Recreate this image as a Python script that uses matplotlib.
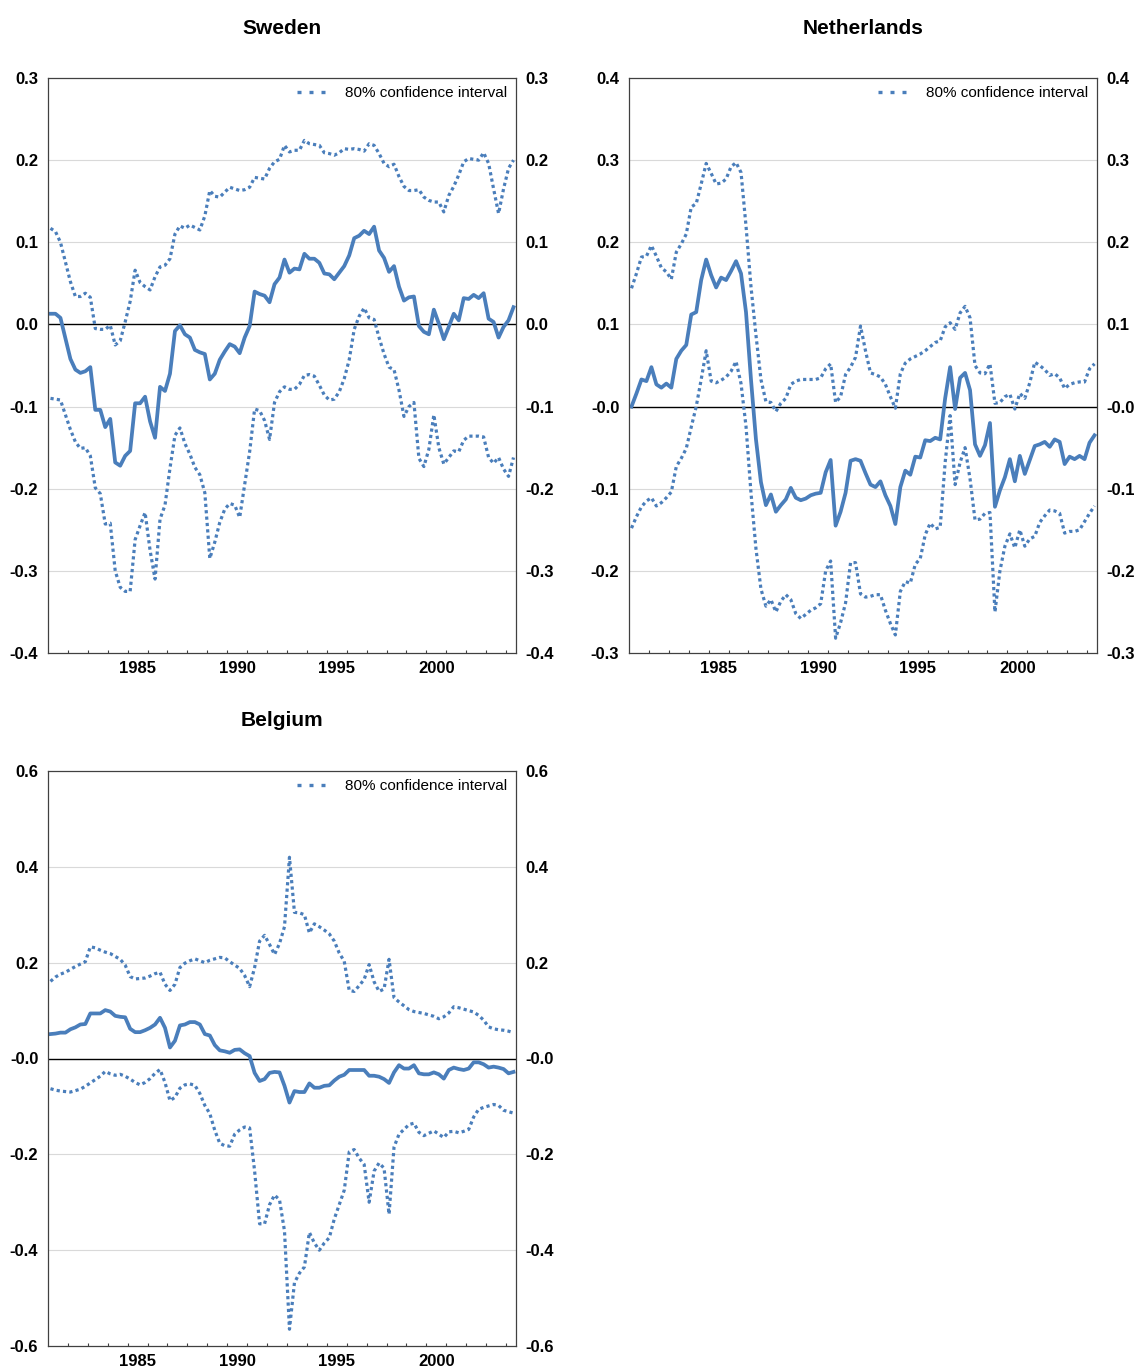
import numpy as np
import pandas as pd
import matplotlib
matplotlib.use("Agg")
import matplotlib.pyplot as plt
from matplotlib.lines import Line2D
from matplotlib.ticker import FixedLocator, NullFormatter

plt.rcParams['font.family'] = ['Liberation Sans', 'DejaVu Sans']

quarters = pd.period_range('1981Q1', '2004Q2', freq='Q')

# Sweden
swe_mid = [0.013, 0.013, 0.008, -0.017, -0.042, -0.055, -0.059, -0.057, -0.052, -0.104,
           -0.104, -0.125, -0.115, -0.168, -0.172, -0.160, -0.154, -0.096, -0.096, -0.088,
           -0.118, -0.138, -0.076, -0.081, -0.060, -0.008, -0.001, -0.012, -0.016, -0.031,
           -0.034, -0.036, -0.067, -0.060, -0.043, -0.033, -0.024, -0.027, -0.035, -0.016,
           -0.002, 0.040, 0.037, 0.035, 0.027, 0.049, 0.057, 0.079, 0.063, 0.068,
           0.067, 0.086, 0.080, 0.080, 0.075, 0.062, 0.061, 0.055, 0.063, 0.071,
           0.084, 0.105, 0.108, 0.114, 0.110, 0.119, 0.090, 0.081, 0.064, 0.071,
           0.046, 0.029, 0.033, 0.034, -0.002, -0.009, -0.012, 0.018, 0.001, -0.018,
           -0.003, 0.013, 0.005, 0.032, 0.031, 0.036, 0.032, 0.038, 0.007, 0.003,
           -0.016, -0.003, 0.005, 0.021]
swe_hi = [0.117, 0.113, 0.100, 0.076, 0.052, 0.034, 0.034, 0.038, 0.033, -0.005,
          -0.006, -0.006, -0.001, -0.025, -0.020, 0.003, 0.028, 0.066, 0.051, 0.046,
          0.042, 0.058, 0.070, 0.072, 0.080, 0.110, 0.120, 0.117, 0.121, 0.118,
          0.115, 0.132, 0.163, 0.156, 0.155, 0.161, 0.167, 0.165, 0.163, 0.164,
          0.167, 0.179, 0.178, 0.177, 0.190, 0.198, 0.201, 0.218, 0.210, 0.212,
          0.212, 0.224, 0.220, 0.219, 0.218, 0.209, 0.208, 0.206, 0.209, 0.214,
          0.213, 0.214, 0.213, 0.211, 0.220, 0.218, 0.208, 0.196, 0.192, 0.195,
          0.180, 0.168, 0.163, 0.163, 0.164, 0.155, 0.151, 0.149, 0.149, 0.137,
          0.157, 0.168, 0.182, 0.198, 0.202, 0.201, 0.200, 0.209, 0.196, 0.165,
          0.135, 0.165, 0.190, 0.200]
swe_lo = [-0.090, -0.091, -0.092, -0.110, -0.128, -0.143, -0.151, -0.150, -0.160, -0.199,
          -0.206, -0.243, -0.242, -0.300, -0.320, -0.325, -0.325, -0.262, -0.245, -0.229,
          -0.275, -0.310, -0.237, -0.220, -0.175, -0.135, -0.126, -0.145, -0.158, -0.174,
          -0.183, -0.205, -0.285, -0.265, -0.241, -0.225, -0.218, -0.220, -0.235, -0.195,
          -0.155, -0.103, -0.105, -0.117, -0.140, -0.095, -0.082, -0.076, -0.079, -0.079,
          -0.073, -0.062, -0.061, -0.063, -0.074, -0.086, -0.092, -0.091, -0.082, -0.066,
          -0.043, -0.006, 0.010, 0.020, 0.008, 0.006, -0.016, -0.036, -0.052, -0.055,
          -0.080, -0.112, -0.100, -0.095, -0.163, -0.173, -0.152, -0.110, -0.150, -0.170,
          -0.162, -0.154, -0.155, -0.141, -0.136, -0.136, -0.136, -0.137, -0.162, -0.169,
          -0.162, -0.176, -0.185, -0.162]

# Netherlands
nld_mid = [0.000, 0.016, 0.033, 0.031, 0.048, 0.027, 0.023, 0.028, 0.023, 0.058,
           0.068, 0.075, 0.112, 0.115, 0.154, 0.179, 0.160, 0.145, 0.157, 0.154,
           0.165, 0.177, 0.162, 0.115, 0.033, -0.040, -0.092, -0.120, -0.107, -0.128,
           -0.120, -0.113, -0.099, -0.111, -0.114, -0.112, -0.108, -0.106, -0.105, -0.080,
           -0.065, -0.145, -0.128, -0.105, -0.066, -0.064, -0.066, -0.081, -0.095, -0.098,
           -0.091, -0.108, -0.121, -0.143, -0.098, -0.078, -0.083, -0.061, -0.062, -0.041,
           -0.042, -0.038, -0.040, 0.010, 0.048, -0.003, 0.035, 0.041, 0.020, -0.046,
           -0.060, -0.047, -0.020, -0.122, -0.102, -0.086, -0.064, -0.091, -0.060, -0.082,
           -0.065, -0.048, -0.046, -0.043, -0.049, -0.040, -0.043, -0.070, -0.061, -0.064,
           -0.060, -0.064, -0.044, -0.035]
nld_hi = [0.144, 0.162, 0.182, 0.183, 0.196, 0.183, 0.169, 0.164, 0.155, 0.188,
          0.198, 0.210, 0.243, 0.247, 0.271, 0.296, 0.284, 0.271, 0.272, 0.277,
          0.292, 0.297, 0.285, 0.220, 0.146, 0.087, 0.033, 0.006, 0.005, -0.006,
          0.004, 0.010, 0.027, 0.031, 0.033, 0.033, 0.033, 0.033, 0.035, 0.046,
          0.052, 0.005, 0.012, 0.039, 0.048, 0.060, 0.098, 0.068, 0.041, 0.039,
          0.036, 0.027, 0.012, -0.002, 0.040, 0.053, 0.058, 0.061, 0.064, 0.068,
          0.073, 0.078, 0.080, 0.097, 0.102, 0.094, 0.114, 0.122, 0.108, 0.050,
          0.041, 0.040, 0.052, 0.004, 0.005, 0.012, 0.015, -0.003, 0.016, 0.010,
          0.029, 0.054, 0.050, 0.045, 0.038, 0.040, 0.035, 0.022, 0.027, 0.029,
          0.030, 0.030, 0.046, 0.052]
nld_lo = [-0.148, -0.134, -0.122, -0.115, -0.111, -0.121, -0.117, -0.111, -0.104, -0.073,
          -0.063, -0.051, -0.025, 0.000, 0.033, 0.068, 0.031, 0.029, 0.032, 0.036,
          0.043, 0.055, 0.028, -0.024, -0.105, -0.173, -0.222, -0.243, -0.235, -0.250,
          -0.237, -0.229, -0.235, -0.252, -0.258, -0.253, -0.248, -0.245, -0.240, -0.200,
          -0.188, -0.282, -0.263, -0.239, -0.190, -0.190, -0.228, -0.232, -0.231, -0.229,
          -0.229, -0.248, -0.264, -0.278, -0.225, -0.213, -0.215, -0.192, -0.185, -0.156,
          -0.142, -0.149, -0.147, -0.068, -0.011, -0.095, -0.068, -0.050, -0.088, -0.138,
          -0.137, -0.130, -0.129, -0.250, -0.200, -0.170, -0.155, -0.172, -0.150, -0.170,
          -0.161, -0.158, -0.141, -0.133, -0.126, -0.127, -0.130, -0.154, -0.152, -0.152,
          -0.150, -0.140, -0.130, -0.121]

# Belgium
bel_mid = [0.051, 0.052, 0.054, 0.054, 0.061, 0.065, 0.071, 0.072, 0.094, 0.094,
           0.094, 0.101, 0.098, 0.089, 0.087, 0.086, 0.062, 0.055, 0.055, 0.059,
           0.064, 0.071, 0.085, 0.064, 0.023, 0.037, 0.069, 0.071, 0.076, 0.076,
           0.071, 0.051, 0.048, 0.028, 0.017, 0.015, 0.012, 0.018, 0.019, 0.011,
           0.005, -0.030, -0.047, -0.043, -0.030, -0.028, -0.029, -0.057, -0.092, -0.068,
           -0.070, -0.070, -0.052, -0.061, -0.061, -0.057, -0.056, -0.046, -0.038, -0.034,
           -0.024, -0.024, -0.024, -0.024, -0.036, -0.036, -0.038, -0.043, -0.051, -0.029,
           -0.014, -0.021, -0.021, -0.014, -0.031, -0.033, -0.033, -0.029, -0.033, -0.042,
           -0.024, -0.019, -0.022, -0.024, -0.021, -0.008, -0.008, -0.012, -0.019, -0.017,
           -0.019, -0.022, -0.031, -0.028]
bel_hi = [0.161, 0.170, 0.176, 0.180, 0.186, 0.192, 0.197, 0.202, 0.233, 0.231,
          0.226, 0.222, 0.219, 0.213, 0.207, 0.195, 0.171, 0.166, 0.167, 0.168,
          0.172, 0.177, 0.180, 0.155, 0.142, 0.155, 0.190, 0.199, 0.204, 0.208,
          0.204, 0.200, 0.205, 0.208, 0.211, 0.210, 0.202, 0.195, 0.188, 0.173,
          0.150, 0.190, 0.245, 0.257, 0.238, 0.217, 0.240, 0.275, 0.420, 0.305,
          0.304, 0.300, 0.262, 0.281, 0.275, 0.268, 0.260, 0.245, 0.220, 0.203,
          0.142, 0.140, 0.152, 0.165, 0.196, 0.160, 0.140, 0.145, 0.207, 0.127,
          0.118, 0.110, 0.102, 0.098, 0.096, 0.094, 0.091, 0.088, 0.083, 0.087,
          0.095, 0.108, 0.106, 0.103, 0.100, 0.097, 0.090, 0.080, 0.066, 0.062,
          0.060, 0.059, 0.057, 0.054]
bel_lo = [-0.063, -0.066, -0.068, -0.069, -0.070, -0.067, -0.064, -0.058, -0.051, -0.044,
          -0.037, -0.027, -0.032, -0.035, -0.033, -0.037, -0.043, -0.050, -0.055, -0.050,
          -0.042, -0.031, -0.023, -0.050, -0.088, -0.081, -0.062, -0.055, -0.053, -0.056,
          -0.073, -0.098, -0.115, -0.150, -0.177, -0.182, -0.183, -0.158, -0.149, -0.143,
          -0.145, -0.235, -0.345, -0.345, -0.305, -0.285, -0.295, -0.360, -0.565, -0.468,
          -0.448, -0.435, -0.363, -0.385, -0.400, -0.385, -0.374, -0.335, -0.305, -0.275,
          -0.195, -0.190, -0.208, -0.221, -0.300, -0.235, -0.218, -0.229, -0.325, -0.185,
          -0.158, -0.148, -0.138, -0.135, -0.154, -0.161, -0.156, -0.151, -0.158, -0.165,
          -0.153, -0.152, -0.155, -0.152, -0.148, -0.122, -0.106, -0.102, -0.099, -0.096,
          -0.098, -0.108, -0.111, -0.114]

panels = [
    ("Sweden", swe_mid, swe_hi, swe_lo, [-0.4, -0.3, -0.2, -0.1, 0.0, 0.1, 0.2, 0.3],
     ["-0.4", "-0.3", "-0.2", "-0.1", "0.0", "0.1", "0.2", "0.3"]),
    ("Netherlands", nld_mid, nld_hi, nld_lo, [-0.3, -0.2, -0.1, 0.0, 0.1, 0.2, 0.3, 0.4],
     ["-0.3", "-0.2", "-0.1", "-0.0", "0.1", "0.2", "0.3", "0.4"]),
    ("Belgium", bel_mid, bel_hi, bel_lo, [-0.6, -0.4, -0.2, 0.0, 0.2, 0.4, 0.6],
     ["-0.6", "-0.4", "-0.2", "-0.0", "0.2", "0.4", "0.6"]),
]

year_labels = [1985, 1990, 1995, 2000]
blue = '#4A7EBB'

W, H = 1138, 1369
fig = plt.figure(figsize=(W / 100, H / 100), dpi=100)
fig.patch.set_facecolor('white')

# axes boxes in pixels: left, top, right, bottom
boxes = [(48, 78, 516, 653), (629, 78, 1097, 653), (48, 771, 516, 1346)]
title_y = [28, 28, 721]

x = quarters.year + (quarters.quarter - 1) / 4 + 0.125

for (name, mid, hi, lo, yt, ytl), (l, t, r, b), ty in zip(panels, boxes, title_y):
    ax = fig.add_axes([l / W, 1 - b / H, (r - l) / W, (b - t) / H])
    ax.plot(x, hi, color=blue, lw=2.3, linestyle=(0, (1.0, 1.0)), dash_capstyle='butt')
    ax.plot(x, lo, color=blue, lw=2.3, linestyle=(0, (1.0, 1.0)), dash_capstyle='butt')
    ax.plot(x, mid, color=blue, lw=2.7)
    ax.axhline(0, color='black', lw=1.0, zorder=1)

    ax.set_xlim(1981, 2004.5)
    ax.set_ylim(yt[0], yt[-1])
    for v in yt[1:-1]:
        if v != 0:
            ax.axhline(v, color='#D9D9D9', lw=0.8, zorder=0)

    ax.set_yticks(yt)
    ax.set_yticklabels(ytl)
    ax.tick_params(axis='y', which='both', left=False, right=False,
                   labelleft=True, labelright=True, pad=3.5, labelsize=12)
    for lab in ax.get_yticklabels():
        lab.set_fontweight('bold')

    ax.set_xticks([yr + 0.5 for yr in year_labels])
    ax.set_xticklabels([str(yr) for yr in year_labels], fontweight='bold', fontsize=12)
    ax.xaxis.set_minor_locator(FixedLocator(list(range(1982, 2005))))
    ax.xaxis.set_minor_formatter(NullFormatter())
    ax.tick_params(axis='x', which='major', length=0, pad=6)
    ax.tick_params(axis='x', which='minor', length=2.5, width=0.8, color='#404040', direction='in')

    for s in ax.spines.values():
        s.set_color('#404040')
        s.set_linewidth(0.9)

    handle = Line2D([], [], color=blue, lw=2.4, linestyle=(0, (1.2, 2.4)), dash_capstyle='butt')
    ax.legend([handle], ['80% confidence interval'], loc='upper right', frameon=False,
              fontsize=11, handlelength=1.95, handletextpad=1.2,
              borderaxespad=0.3, borderpad=0.25)

    fig.text((l + r) / 2 / W, 1 - ty / H, name, ha='center', va='center',
             fontsize=15, fontweight='bold')

fig.savefig('out.png', dpi=100, facecolor='white')
